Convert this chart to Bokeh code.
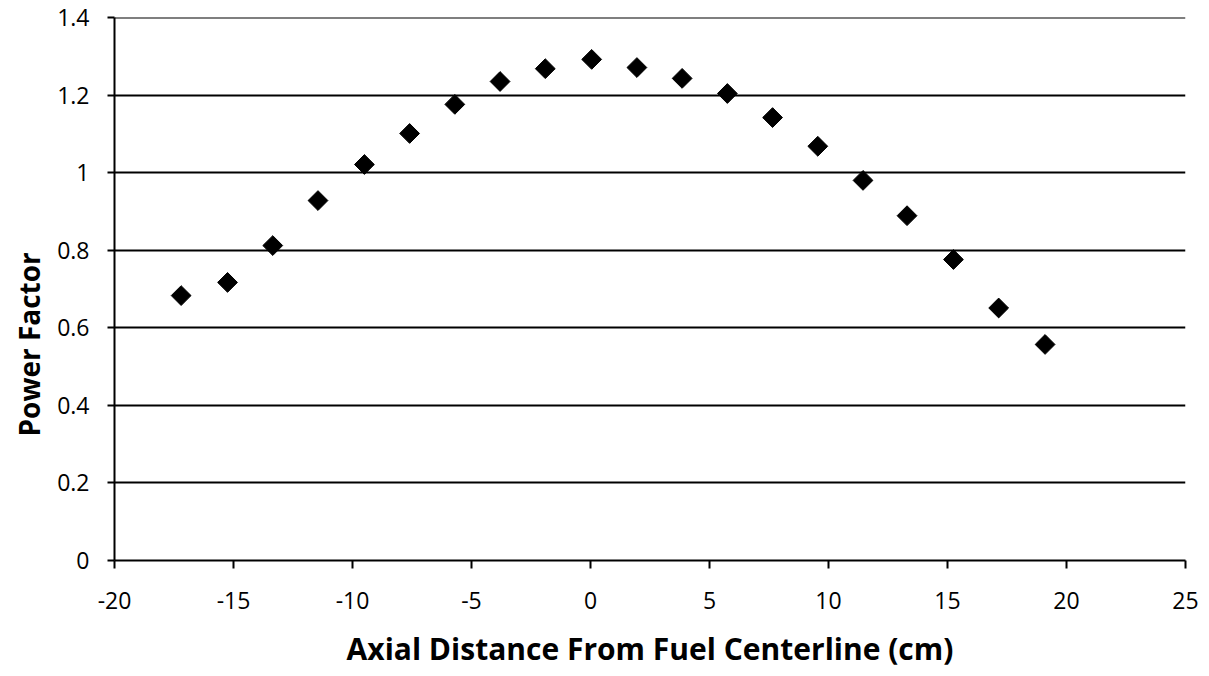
import math
from bokeh.plotting import figure
from bokeh.models import Title, FixedTicker
from bokeh.embed import file_html
from bokeh.resources import INLINE

# Data
distance_cm = [-17.2, -15.25, -13.35, -11.45, -9.5, -7.6, -5.7, -3.8, -1.9, 0.05,
               1.95, 3.85, 5.75, 7.65, 9.55, 11.45, 13.3, 15.25, 17.15, 19.1]
power_factor = [0.683, 0.717, 0.812, 0.928, 1.021, 1.101, 1.176, 1.235, 1.268, 1.292,
                1.271, 1.243, 1.204, 1.142, 1.068, 0.980, 0.889, 0.776, 0.651, 0.557]
x_ticks = [-20, -15, -10, -5, 0, 5, 10, 15, 20, 25]
x_tick_labels = {t: str(t) for t in x_ticks}
y_ticks = [0, 0.2, 0.4, 0.6, 0.8, 1.0, 1.2, 1.4]
y_tick_labels = {0: "0", 0.2: "0.2", 0.4: "0.4", 0.6: "0.6", 0.8: "0.8", 1.0: "1", 1.2: "1.2", 1.4: "1.4"}

FONT = "Open Sans"

p = figure(width=1209, height=676, output_backend="svg", toolbar_location=None,
           x_range=(-20, 25), y_range=(0, 1.4),
           min_border_left=112, min_border_right=24, min_border_top=17, min_border_bottom=116)
p.outline_line_color = None
p.background_fill_color = "white"
p.border_fill_color = "white"

p.xgrid.grid_line_color = None
p.ygrid.grid_line_color = "black"
p.ygrid.grid_line_width = 2
p.ygrid.ticker = FixedTicker(ticks=y_ticks)
# top gridline at the end of the range
p.hspan(y=[y_ticks[-1]], line_color="black", line_width=2)

p.xaxis.ticker = FixedTicker(ticks=x_ticks)
p.xaxis.major_label_overrides = x_tick_labels
p.yaxis.ticker = FixedTicker(ticks=y_ticks)
p.yaxis.major_label_overrides = y_tick_labels

for ax in (p.xaxis[0], p.yaxis[0]):
    ax.axis_line_color = "black"
    ax.axis_line_width = 2
    ax.major_tick_line_color = "black"
    ax.major_tick_line_width = 2
    ax.major_tick_in = 0
    ax.minor_tick_line_color = None
    ax.major_label_text_font = FONT
    ax.major_label_text_font_size = "23px"
    ax.major_label_text_color = "black"

p.xaxis.major_tick_out = 8
p.yaxis.major_tick_out = 7
p.xaxis.major_label_standoff = 23
p.yaxis.major_label_standoff = 18

p.xaxis.axis_label = "Axial Distance From Fuel Centerline (cm)"
p.xaxis.axis_label_text_font = FONT
p.xaxis.axis_label_text_font_size = "30px"
p.xaxis.axis_label_text_font_style = "bold"
p.xaxis.axis_label_text_color = "black"
p.xaxis.axis_label_standoff = 16

ytitle = Title(text="Power Factor", align="left", offset=124,
               text_font=FONT, text_font_size="28px", text_font_style="bold",
               text_color="black", standoff=14)
p.add_layout(ytitle, "left")

p.scatter(distance_cm, power_factor, marker="square", size=14, angle=math.pi / 4,
          fill_color="black", line_color="black")

open("out.html", "w").write(file_html(p, INLINE))
